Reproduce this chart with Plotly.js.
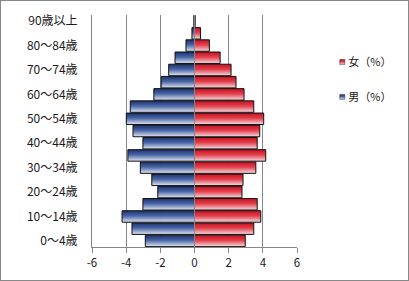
<!DOCTYPE html>
<html>
<head>
<meta charset="utf-8">
<script src="https://cdn.plot.ly/plotly-3.0.1.min.js"></script>
<style>
html,body{margin:0;padding:0;background:#fff;}
#chart{width:407px;height:279px;border:1px solid #878787;}
</style>
</head>
<body>
<div id="chart"></div>
<script>
var ages = ['0～4歳','5～9歳','10～14歳','15～19歳','20～24歳','25～29歳','30～34歳','35～39歳','40～44歳','45～49歳','50～54歳','55～59歳','60～64歳','65～69歳','70～74歳','75～79歳','80～84歳','85～89歳','90歳以上'];
var male = [-2.88,-3.66,-4.24,-3.02,-2.15,-2.5,-3.17,-3.9,-3.02,-3.6,-3.99,-3.76,-2.38,-1.95,-1.51,-1.14,-0.5,-0.15,-0.04];
var female = [2.97,3.47,3.88,3.67,2.78,2.84,3.59,4.17,3.67,3.82,4.05,3.47,2.9,2.43,2.14,1.5,0.87,0.35,0.04];
var xTicks = [-6,-4,-2,0,2,4,6];
var yTickLabels = ages.filter(function(a,i){return i%2===0;});
var maleName = '男（%）';
var femaleName = '女（%）';

var font = {family:'"Noto Sans CJK JP", "DejaVu Sans", sans-serif', size:11, color:'#1a1a1a'};

var data = [
  {type:'bar', orientation:'h', y:ages, x:male, name:maleName, legend:'legend2',
   marker:{color:'#4a64a0', line:{color:'#111', width:1}}},
  {type:'bar', orientation:'h', y:ages, x:female, name:femaleName, legend:'legend',
   marker:{color:'#e04050', line:{color:'#111', width:1}}}
];

var layout = {
  width:407, height:279,
  margin:{l:91, r:110, t:14, b:33},
  paper_bgcolor:'#fff', plot_bgcolor:'#fff',
  font:font,
  barmode:'relative', bargap:0.06,
  showlegend:true,
  xaxis:{range:[-6,6], tickvals:xTicks, ticktext:xTicks.map(String),
    showgrid:true, gridcolor:'#868686', gridwidth:1,
    zeroline:true, zerolinecolor:'#868686', zerolinewidth:1, zerolinelayer:'above traces',
    showline:true, linecolor:'#868686', linewidth:1,
    ticks:'outside', ticklen:5, tickcolor:'#868686', tickfont:{size:11.5}, fixedrange:true},
  yaxis:{type:'category', categoryorder:'array', categoryarray:ages,
    tickvals:yTickLabels, ticktext:yTickLabels,
    showline:true, linecolor:'#868686', linewidth:1, showgrid:false,
    ticks:'', ticklabelstandoff:11, tickfont:{size:12}, fixedrange:true},
  legend:{x:1.05, xanchor:'left', y:0.797, yanchor:'middle', bgcolor:'rgba(0,0,0,0)', font:{size:11}, itemwidth:30},
  legend2:{x:1.05, xanchor:'left', y:0.647, yanchor:'middle', bgcolor:'rgba(0,0,0,0)', font:{size:11}, itemwidth:30}
};

var gd = document.getElementById('chart');
Plotly.newPlot(gd, data, layout, {staticPlot:true, displayModeBar:false}).then(function(){
  var svg = gd.querySelector('svg.main-svg');
  var NS = 'http://www.w3.org/2000/svg';
  var defs = svg.querySelector('defs') || svg.insertBefore(document.createElementNS(NS,'defs'), svg.firstChild);
  function grad(id, stops){
    var g = document.createElementNS(NS,'linearGradient');
    g.setAttribute('id', id);
    g.setAttribute('x1','0'); g.setAttribute('y1','0'); g.setAttribute('x2','0'); g.setAttribute('y2','1');
    stops.forEach(function(s){
      var st = document.createElementNS(NS,'stop');
      st.setAttribute('offset', s[0]); st.setAttribute('stop-color', s[1]);
      g.appendChild(st);
    });
    defs.appendChild(g);
  }
  grad('gMale', [['0','#1a326e'],['0.45','#4a66a6'],['1','#e2e7f2']]);
  grad('gFemale', [['0','#c8101e'],['0.45','#e2404e'],['1','#f6dde0']]);
  var traces = gd.querySelectorAll('.barlayer .trace');
  traces.forEach(function(t, i){
    var id = i === 0 ? 'gMale' : 'gFemale';
    t.querySelectorAll('path').forEach(function(p){ p.style.fill = 'url(#' + id + ')'; p.style.fillOpacity = 1; });
  });
  gd.querySelectorAll('.legend .traces, .legend2 .traces').forEach(function(tr){
    var txt = tr.textContent || '';
    var id = txt.indexOf('女') >= 0 ? 'gFemale' : 'gMale';
    tr.querySelectorAll('.legendpoints path').forEach(function(p){
      p.style.fill = 'url(#' + id + ')';
      p.style.stroke = '#111';
      p.style.strokeWidth = '1px';
      p.setAttribute('transform', 'translate(34,0) scale(0.42)');
    });
  });
});
</script>
</body>
</html>
